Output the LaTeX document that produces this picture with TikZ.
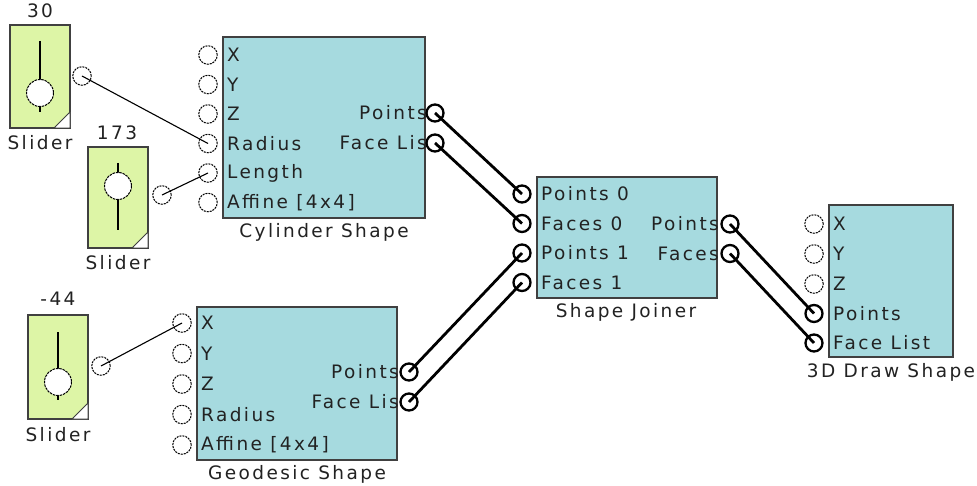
\documentclass[tikz,border=0pt]{standalone}
\usepackage{fontspec}
\setmainfont{DejaVu Sans}[LetterSpace=13]
\definecolor{boxc}{HTML}{A6DADF}
\definecolor{slc}{HTML}{DDF5A6}
\definecolor{txt}{HTML}{222222}
\tikzset{
  blk/.style={fill=boxc, draw=black!75, line width=1.1pt},
  sld/.style={fill=slc, draw=black!75, line width=1.1pt},
  iport/.style={circle, draw=black, line width=1pt, dash pattern=on 2pt off 1pt, minimum size=18.5pt, inner sep=0pt},
  oport/.style={circle, draw=black, line width=2.3pt, minimum size=17pt, inner sep=0pt},
  lab/.style={text=txt, inner sep=0pt, anchor=west},
  rlab/.style={text=txt, inner sep=0pt, anchor=east},
  capt/.style={text=txt, inner sep=0pt},
  thinw/.style={draw=black, line width=1.1pt},
  thickw/.style={draw=black, line width=2.8pt},
  knob/.style={fill=white, draw=black, line width=1pt, dash pattern=on 2.5pt off 0.9pt},
  stem/.style={draw=black, line width=1.4pt}
}
\begin{document}
\begin{tikzpicture}[x=1pt,y=-1pt,font=\fontsize{18.5}{21}\selectfont]
\useasboundingbox (0,0) rectangle (977,486);
\fill[white] (0,0) rectangle (977,486);

% ---------- Sliders ----------
% slider 1
\draw[sld] (10,25) rectangle (70,128);
\filldraw[fill=white,draw=black!75,line width=0.8pt] (70,112) -- (70,128) -- (54,128) -- cycle;
\draw[stem] (40,41) -- (40,112);
\draw[knob] (40,93) circle (13.5);
\node[capt] (v1) at (40,11) {30};
\node[capt] (c1) at (40,143) {Slider};
\node[iport] (s1o) at (82,76) {};
% slider 2
\draw[sld] (88,147) rectangle (148,248);
\filldraw[fill=white,draw=black!75,line width=0.8pt] (148,232) -- (148,248) -- (132,248) -- cycle;
\draw[stem] (118,163) -- (118,230);
\draw[knob] (118,186) circle (13.5);
\node[capt] (v2) at (117,133) {173};
\node[capt] (c2) at (118,263) {Slider};
\node[iport] (s2o) at (162,195) {};
% slider 3
\draw[sld] (28,315) rectangle (88,419);
\filldraw[fill=white,draw=black!75,line width=0.8pt] (88,403) -- (88,419) -- (72,419) -- cycle;
\draw[stem] (58,332) -- (58,400);
\draw[knob] (58,382) circle (13.5);
\node[capt] (v3) at (58,299) {-44};
\node[capt] (c3) at (58,435) {Slider};
\node[iport] (s3o) at (101,366) {};

% ---------- Cylinder Shape ----------
\draw[blk] (223,37) rectangle (425,218);
\node[capt] (cylcap) at (324,232) {Cylinder Shape};
\foreach \n/\t/\y in {cX/X/55, cY/Y/84.5, cZ/Z/114, cR/Radius/143.5, cL/Length/173, cA/Affine [4x4]/202.5}{
  \node[iport] (\n) at (208,\y) {};
  \node[lab] at (227,\y) {\t};
}
\node[oport] (cP) at (435,113) {};
\node[oport] (cF) at (435,143) {};
\node[rlab] at (427,113) {Points};
\node[rlab] at (427,143) {Face Lis};

% ---------- Geodesic Shape ----------
\draw[blk] (197,307) rectangle (397,460);
\node[capt] (geocap) at (297,474) {Geodesic Shape};
\foreach \n/\t/\y in {gX/X/323, gY/Y/353.5, gZ/Z/384, gR/Radius/414.5, gA/Affine [4x4]/445}{
  \node[iport] (\n) at (182,\y) {};
  \node[lab] at (201,\y) {\t};
}
\node[oport] (gP) at (409,372) {};
\node[oport] (gF) at (409,402) {};
\node[rlab] at (399,372) {Points};
\node[rlab] at (399,402) {Face Lis};

% ---------- Shape Joiner ----------
\draw[blk] (537,177) rectangle (717,298);
\node[capt] (jcap) at (626,312) {Shape Joiner};
\foreach \n/\t/\y in {jP0/Points 0/194, jF0/Faces 0/223.5, jP1/Points 1/253, jF1/Faces 1/282.5}{
  \node[oport] (\n) at (522,\y) {};
  \node[lab] at (541,\y) {\t};
}
\node[oport] (jP) at (730,224) {};
\node[oport] (jF) at (730,253.5) {};
\node[rlab] at (719,224) {Points};
\node[rlab] at (719,253.5) {Faces};

% ---------- 3D Draw Shape ----------
\draw[blk] (829,205) rectangle (953,357);
\node[capt] (dcap) at (891,372) {3D Draw Shape};
\foreach \n/\t/\y in {dX/X/224, dY/Y/254, dZ/Z/284}{
  \node[iport] (\n) at (814,\y) {};
  \node[lab] at (833,\y) {\t};
}
\node[oport] (dP) at (814,313.5) {};
\node[oport] (dF) at (814,343) {};
\node[lab] at (833,313.5) {Points};
\node[lab] at (833,343) {Face List};

% ---------- Wires ----------
\draw[thinw] (s1o.center) -- (cR.center);
\draw[thinw] (s2o.center) -- (cL.center);
\draw[thinw] (s3o.center) -- (gX.center);
\draw[thickw] (cP.center) -- (jP0.center);
\draw[thickw] (cF.center) -- (jF0.center);
\draw[thickw] (gP.center) -- (jP1.center);
\draw[thickw] (gF.center) -- (jF1.center);
\draw[thickw] (jP.center) -- (dP.center);
\draw[thickw] (jF.center) -- (dF.center);
\end{tikzpicture}
\end{document}
